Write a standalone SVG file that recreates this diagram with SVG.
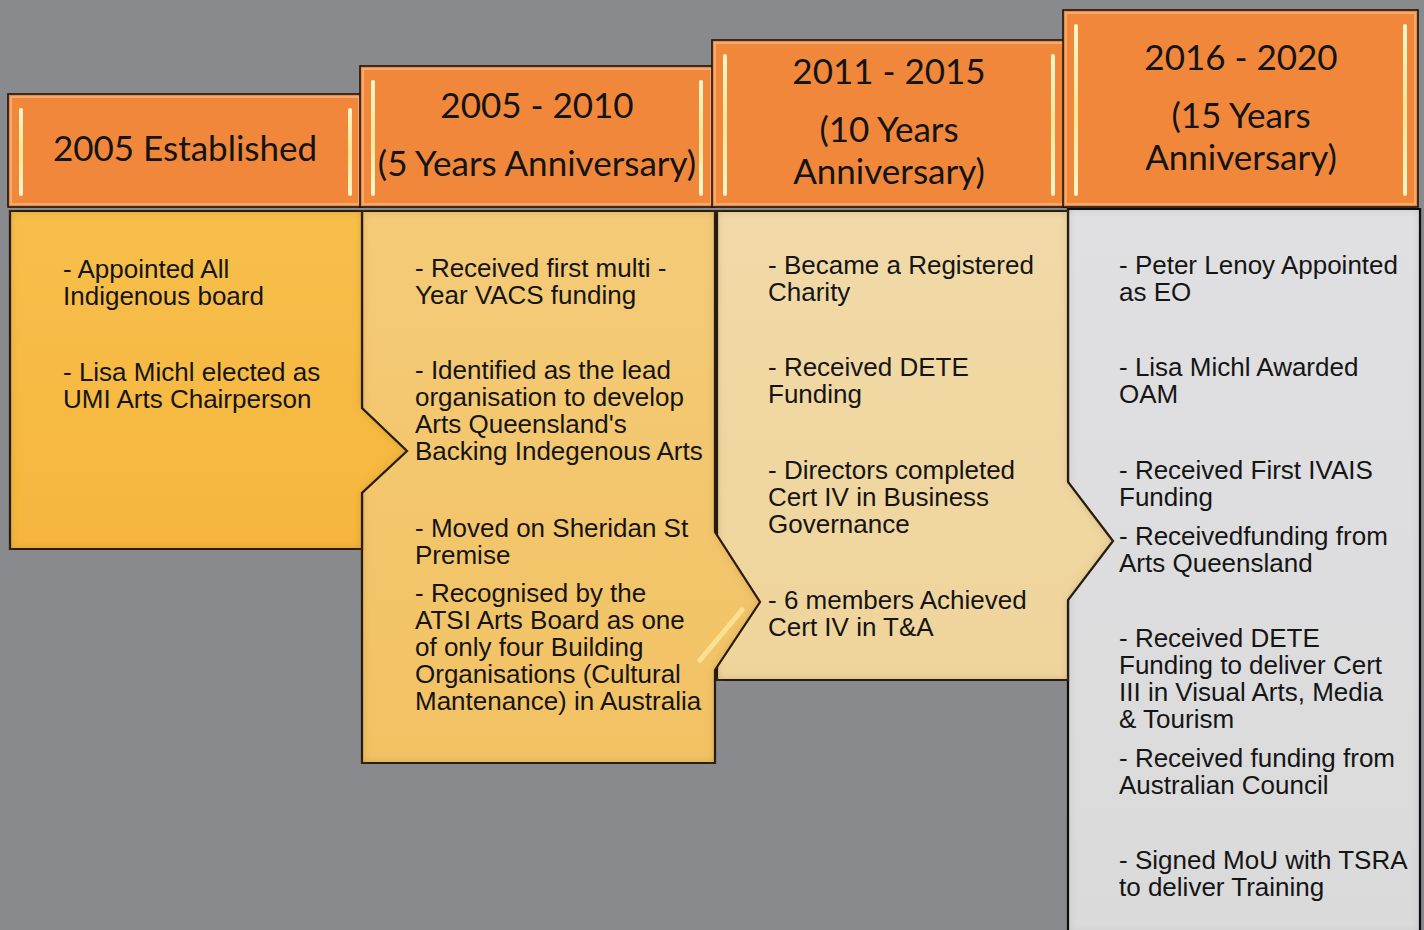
<svg xmlns="http://www.w3.org/2000/svg" width="1424" height="930" viewBox="0 0 1424 930">
<defs>
<style>
.hdr{fill:#f0873b;stroke:#141414;stroke-width:1.6}
.hin{fill:none;stroke:#fbbf8e;stroke-width:1.5;opacity:.8}
.ht{font-family:Lato,"Open Sans",sans-serif;font-size:35px;fill:#141414;text-anchor:middle}
.bt{font-family:"Liberation Sans",Arial,sans-serif;font-size:26px;fill:#151515}
.body{stroke:#151515;stroke-width:2.2;stroke-linejoin:miter}
</style>
<filter id="inset" x="-5%" y="-5%" width="110%" height="110%">
<feFlood flood-color="#5a3a00" flood-opacity="0.45"/>
<feComposite in2="SourceAlpha" operator="out"/>
<feGaussianBlur stdDeviation="5"/>
<feComposite in2="SourceAlpha" operator="in" result="sh"/>
<feMerge><feMergeNode in="SourceGraphic"/><feMergeNode in="sh"/></feMerge>
</filter>
<filter id="insetg" x="-5%" y="-5%" width="110%" height="110%">
<feFlood flood-color="#000" flood-opacity="0.35"/>
<feComposite in2="SourceAlpha" operator="out"/>
<feGaussianBlur stdDeviation="5"/>
<feComposite in2="SourceAlpha" operator="in" result="sh"/>
<feMerge><feMergeNode in="SourceGraphic"/><feMergeNode in="sh"/></feMerge>
</filter>
<linearGradient id="g1" x1="0" y1="0" x2="0" y2="1"><stop offset="0" stop-color="#f7bf4a"/><stop offset="1" stop-color="#f6b63e"/></linearGradient>
<linearGradient id="g2" x1="0" y1="0" x2="0" y2="1"><stop offset="0" stop-color="#f4cb78"/><stop offset="1" stop-color="#f2c263"/></linearGradient>
<linearGradient id="g3" x1="0" y1="0" x2="0" y2="1"><stop offset="0" stop-color="#f1daa8"/><stop offset="1" stop-color="#efd49b"/></linearGradient>
<linearGradient id="g4" x1="0" y1="0" x2="0" y2="1"><stop offset="0" stop-color="#e0e0e2"/><stop offset="1" stop-color="#dadadb"/></linearGradient>
<linearGradient id="barg" x1="0" y1="0" x2="0" y2="1"><stop offset="0" stop-color="#fff6c8"/><stop offset="0.5" stop-color="#ffe79a"/><stop offset="1" stop-color="#fff6c8"/></linearGradient>
</defs>
<rect width="1424" height="930" fill="#898a8e"/>

<g id="col4-body">
<path class="body" d="M1068,209 H1420 V934 H1068 Z" fill="url(#g4)" filter="url(#insetg)"/>
<text class="bt" x="1119"><tspan x="1119" y="274">- Peter Lenoy Appointed</tspan><tspan x="1119" y="301">as EO</tspan><tspan x="1119" y="376">- Lisa Michl Awarded</tspan><tspan x="1119" y="403">OAM</tspan><tspan x="1119" y="479">- Received First IVAIS</tspan><tspan x="1119" y="506">Funding</tspan><tspan x="1119" y="545">- Receivedfunding from</tspan><tspan x="1119" y="572">Arts Queensland</tspan><tspan x="1119" y="647">- Received DETE</tspan><tspan x="1119" y="674">Funding to deliver Cert</tspan><tspan x="1119" y="701">III in Visual Arts, Media</tspan><tspan x="1119" y="728">&amp; Tourism</tspan><tspan x="1119" y="767">- Received funding from</tspan><tspan x="1119" y="794">Australian Council</tspan><tspan x="1119" y="869">- Signed MoU with TSRA</tspan><tspan x="1119" y="896">to deliver Training</tspan></text>
</g>

<g id="col3-body">
<path class="body" d="M717,211 H1068 V482 L1113,541 L1068,600 V680 H717 Z" fill="url(#g3)" filter="url(#inset)"/>
<text class="bt"><tspan x="768" y="274">- Became a Registered</tspan><tspan x="768" y="301">Charity</tspan><tspan x="768" y="376">- Received DETE</tspan><tspan x="768" y="403">Funding</tspan><tspan x="768" y="479">- Directors completed</tspan><tspan x="768" y="506">Cert IV in Business</tspan><tspan x="768" y="533">Governance</tspan><tspan x="768" y="609">- 6 members Achieved</tspan><tspan x="768" y="636">Cert IV in T&amp;A</tspan></text>
</g>

<g id="col2-body">
<path class="body" d="M362,211 H715 V532 L760,602 L715,670 V763 H362 Z" fill="url(#g2)" filter="url(#inset)"/>
<path d="M700,660 L742,610" stroke="#fff3b0" stroke-width="5" stroke-linecap="round" opacity="0.6"/>
<text class="bt"><tspan x="415" y="277">- Received first multi -</tspan><tspan x="415" y="304">Year VACS funding</tspan><tspan x="415" y="379">- Identified as the lead</tspan><tspan x="415" y="406">organisation to develop</tspan><tspan x="415" y="433">Arts Queensland's</tspan><tspan x="415" y="460">Backing Indegenous Arts</tspan><tspan x="415" y="537">- Moved on Sheridan St</tspan><tspan x="415" y="564">Premise</tspan><tspan x="415" y="602">- Recognised by the</tspan><tspan x="415" y="629">ATSI Arts Board as one</tspan><tspan x="415" y="656">of only four Building</tspan><tspan x="415" y="683">Organisations (Cultural</tspan><tspan x="415" y="710">Mantenance) in Australia</tspan></text>
</g>

<g id="col1-body">
<path class="body" d="M10,211 H362 V408 L407,451 L362,493 V549 H10 Z" fill="url(#g1)" filter="url(#inset)"/>
<text class="bt"><tspan x="63" y="278">- Appointed All</tspan><tspan x="63" y="305">Indigenous board</tspan><tspan x="63" y="381">- Lisa Michl elected as</tspan><tspan x="63" y="408">UMI Arts Chairperson</tspan></text>
</g>

<g id="col1-header">
<rect class="hdr" x="8" y="94" width="354" height="113"/>
<rect class="hin" x="11" y="97" width="348" height="107"/>
<rect x="19" y="108" width="4" height="88" rx="2" fill="url(#barg)"/>
<rect x="348" y="108" width="4" height="88" rx="2" fill="url(#barg)"/>
<text class="ht" x="185" y="161">2005 Established</text>
</g>

<g id="col2-header">
<rect class="hdr" x="360" y="66" width="354" height="141"/>
<rect class="hin" x="363" y="69" width="348" height="135"/>
<rect x="371" y="80" width="4" height="116" rx="2" fill="url(#barg)"/>
<rect x="699" y="80" width="4" height="116" rx="2" fill="url(#barg)"/>
<text class="ht" x="537" y="118">2005 - 2010</text>
<text class="ht" x="537" y="176">(5 Years Anniversary)</text>
</g>

<g id="col3-header">
<rect class="hdr" x="712" y="40" width="354" height="167"/>
<rect class="hin" x="715" y="43" width="348" height="161"/>
<rect x="723" y="54" width="4" height="142" rx="2" fill="url(#barg)"/>
<rect x="1051" y="54" width="4" height="142" rx="2" fill="url(#barg)"/>
<text class="ht" x="889" y="84">2011 - 2015</text>
<text class="ht" x="889" y="142">(10 Years</text>
<text class="ht" x="889" y="184">Anniversary)</text>
</g>

<g id="col4-header">
<rect class="hdr" x="1063" y="10" width="355" height="197"/>
<rect class="hin" x="1066" y="13" width="349" height="191"/>
<rect x="1074" y="24" width="4" height="172" rx="2" fill="url(#barg)"/>
<rect x="1403" y="24" width="4" height="172" rx="2" fill="url(#barg)"/>
<text class="ht" x="1241" y="70">2016 - 2020</text>
<text class="ht" x="1241" y="128">(15 Years</text>
<text class="ht" x="1241" y="170">Anniversary)</text>
</g>
</svg>
